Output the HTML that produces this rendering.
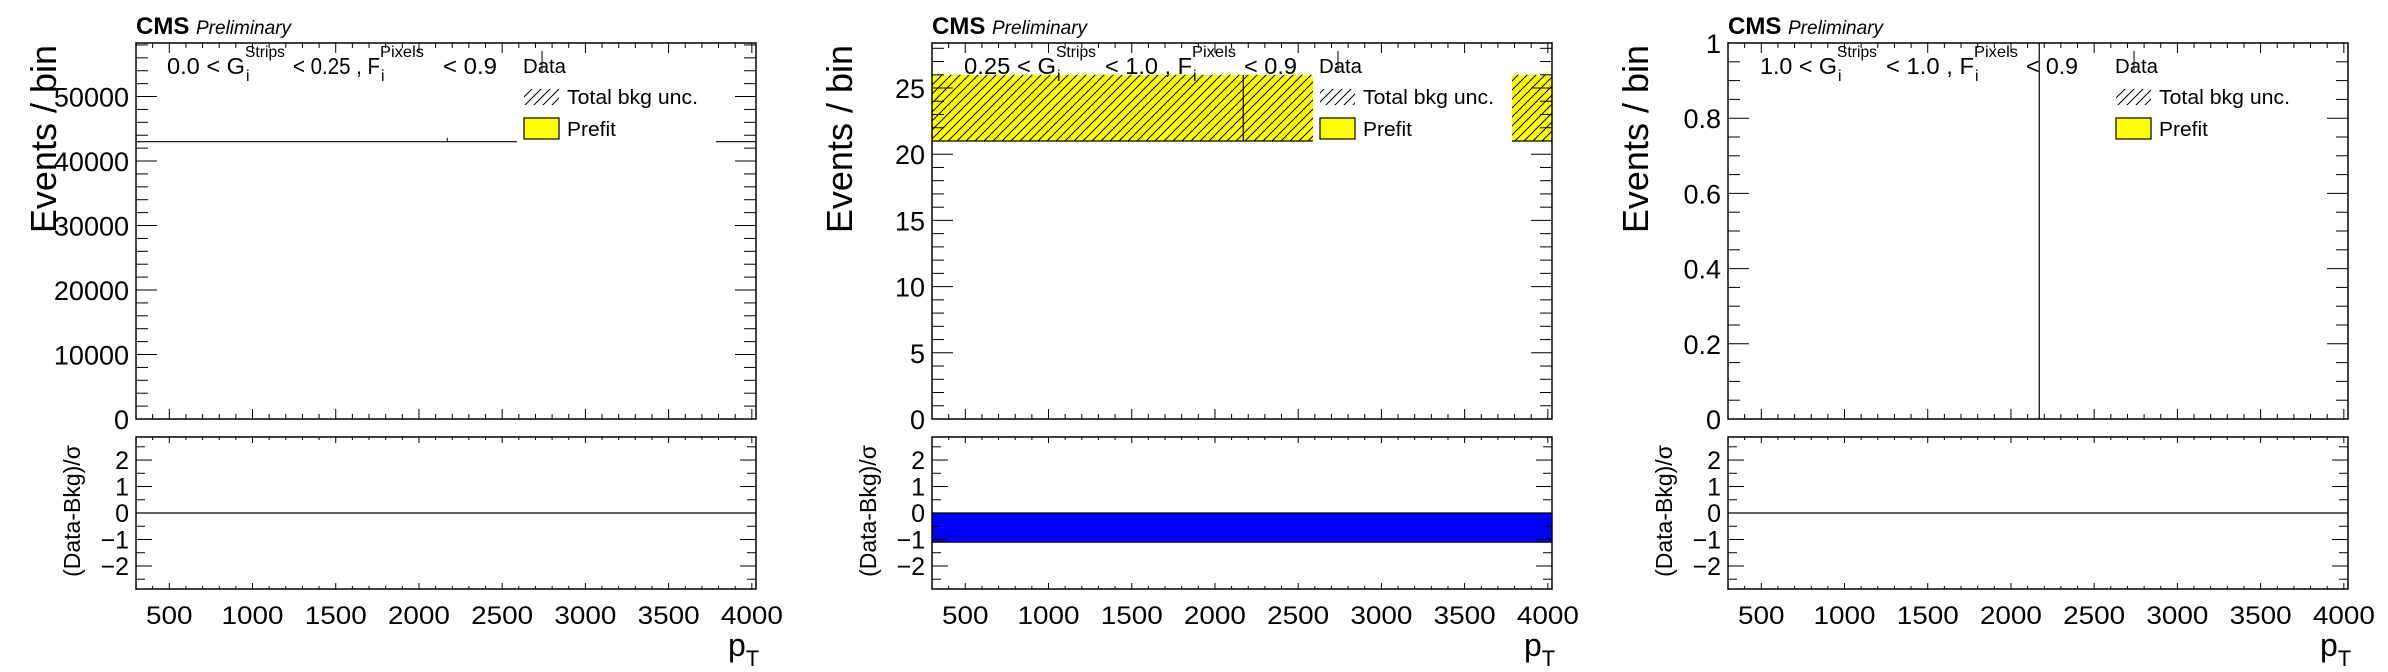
<!DOCTYPE html>
<html><head><meta charset="utf-8"><style>
html,body{margin:0;padding:0;background:#fff;}
svg{display:block;font-family:"Liberation Sans",Arial,sans-serif;}
</style></head><body>
<svg id="fig" width="2388" height="672" viewBox="0 0 2388 672" xmlns="http://www.w3.org/2000/svg">
<defs>
<pattern id="hatch" patternUnits="userSpaceOnUse" width="9" height="9">
<path d="M-2,11 L11,-2 M-2,2 L2,-2 M7,11 L11,7" stroke="#000" stroke-width="1"/>
</pattern>
</defs>
</svg>
<script>
const panelLefts=[136,932,1728];
const xMin=300, xMax=4025;
const binEdges=[300,2170,4025];
const xTicks=[500,1000,1500,2000,2500,3000,3500,4000];
const regionLow=["0.0","0.25","1.0"];
const regionHigh=["0.25","1.0","1.0"];
const yMaxes=[58300,28.4,1.0];
const yMajorStep=[10000,5,0.2];
const yMinorStep=[2000,1,0.05];
const yTickLabels=[["0","10000","20000","30000","40000","50000"],["0","5","10","15","20","25"],["0","0.2","0.4","0.6","0.8","1"]];
const prefit1=[43000,43000];
const prefit2=[23.5,23.5];
const unc2=[2.5,2.5];
const edgeLine3=[2170];
const pull2=[-1.1,-1.1];
const ratioTicks=[-2,-1,0,1,2];
const ratioTickLabels=["\u22122","\u22121","0","1","2"];

const NS="http://www.w3.org/2000/svg";
const svg=document.getElementById('fig');
const W=620, mainTop=43, mainBot=419, rTop=437, rBot=589, rMax=2.87;
const labelGeom=[
 [[31,109],[157,244],[307,361]],
 [[32,124],[173,260],[312,365]],
 [[32,109],[158,246],[298,350]]
];
function mk(tag,attrs,parent){const e=document.createElementNS(NS,tag);for(const k in attrs)e.setAttribute(k,attrs[k]);(parent||svg).appendChild(e);return e;}
function line(x1,y1,x2,y2,p,w){return mk('line',{x1,y1,x2,y2,stroke:'#000','stroke-width':w||1.2},p);}
function txt(p,x,y,size,s,len,extra){const a={x,y,'font-size':size};if(len){a.textLength=len;a.lengthAdjust='spacingAndGlyphs';}Object.assign(a,extra||{});const t=mk('text',a,p);t.textContent=s;return t;}

for(let p=0;p<3;p++){
  const L=panelLefts[p], R=L+W;
  const g=mk('g',{});
  
  
  const X=v=>L+(v-xMin)/(xMax-xMin)*W;
  const Y=v=>mainBot-v/yMaxes[p]*(mainBot-mainTop);
  const RY=v=>(rTop+rBot)/2-v/rMax*(rBot-rTop)/2;

  if(p===0){
    for(let i=0;i<prefit1.length;i++){
      const l=line(X(binEdges[i]),Y(prefit1[i]),X(binEdges[i+1]),Y(prefit1[i]),g,1.2);
      
      
      if(i>0) line(X(binEdges[i]),Y(prefit1[i])-4,X(binEdges[i]),Y(prefit1[i]),g,1);
    }
  }
  if(p===1){
    for(let i=0;i<prefit2.length;i++){
      const y1=Y(prefit2[i]+unc2[i]), y0=Y(prefit2[i]-unc2[i]);
      const r=mk('rect',{x:X(binEdges[i]),y:y1,width:X(binEdges[i+1])-X(binEdges[i]),height:y0-y1,fill:'#ffff00','shape-rendering':'crispEdges'},g);
      
      
      const h=mk('rect',{x:X(binEdges[i]),y:y1,width:X(binEdges[i+1])-X(binEdges[i]),height:y0-y1,fill:'url(#hatch)'},g);
      
      
      line(X(binEdges[i]),y0,X(binEdges[i+1]),y0,g,1.2);
      if(i>0) line(X(binEdges[i]),y1,X(binEdges[i]),y0,g,1.2);
    }
  }
  if(p===2){
    for(const e of edgeLine3){
      const l=line(X(e),Y(yMaxes[p]),X(e),Y(0),g,1.2);
      
      
    }
  }
  if(p===1){
    for(let i=0;i<pull2.length;i++){
      const r=mk('rect',{x:X(binEdges[i])-0.5,y:RY(0),width:X(binEdges[i+1])-X(binEdges[i])+1,height:RY(pull2[i])-RY(0),fill:'#0000ff','shape-rendering':'crispEdges'},g);
      
      
      line(X(binEdges[i]),RY(pull2[i]),X(binEdges[i+1]),RY(pull2[i]),g,1.2);
    }
  }
  const zl=line(L,RY(0),R,RY(0),g,1.2);
  
  

  const lab=mk('g',{},g);
  
  
  const G=labelGeom[p];
  txt(lab,L+G[0][0],74,23,regionLow[p]+' < G',G[0][1]-G[0][0]);
  txt(lab,L+G[0][1],57,16,'Strips',40);
  txt(lab,L+G[0][1]+1,81,16,'i');
  txt(lab,L+G[1][0],74,23,'< '+regionHigh[p]+' , F',G[1][1]-G[1][0]);
  txt(lab,L+G[1][1],57,16,'Pixels',44);
  txt(lab,L+G[1][1]+1,81,16,'i');
  txt(lab,L+G[2][0],74,23,'< 0.9',G[2][1]-G[2][0]);

  const lg=mk('g',{},g);
  
  
  mk('rect',{x:L+381,y:56,width:199,height:89,fill:'#fff'},lg);
  txt(lg,L+387,73,20,'Data',43);
  line(L+406,51,L+406,72,lg,1);
  mk('rect',{x:L+388,y:89,width:35,height:16,fill:'url(#hatch)'},lg);
  txt(lg,L+431,104,20,'Total bkg unc.',131);
  mk('rect',{x:L+388,y:118,width:35,height:21,fill:'#ffff00',stroke:'#000','stroke-width':1.2},lg);
  txt(lg,L+431,136,20,'Prefit',49);

  mk('rect',{x:L,y:mainTop,width:W,height:mainBot-mainTop,fill:'none',stroke:'#000','stroke-width':1.5},g);
  mk('rect',{x:L,y:rTop,width:W,height:rBot-rTop,fill:'none',stroke:'#000','stroke-width':1.5},g);

  for(let v=xMin;v<=xMax;v+=100){
    const maj=v%500===0, x=X(v);
    line(x,mainBot,x,mainBot-(maj?10:5),g,1);
    line(x,mainTop,x,mainTop+(maj?10:5),g,1);
    line(x,rBot,x,rBot-(maj?6:3),g,1);
    line(x,rTop,x,rTop+(maj?6:3),g,1);
  }
  for(let i=0;i<xTicks.length;i++){
    const s=String(xTicks[i]);
    const t=txt(g,X(xTicks[i]),624,25,s,s.length*15.5,{'text-anchor':'middle'});
    
    
  }
  const nMin=Math.floor(yMaxes[p]/yMinorStep[p]+1e-6);
  for(let k=0;k<=nMin;k++){
    const v=k*yMinorStep[p], y=Y(v);
    const maj=Math.abs(v/yMajorStep[p]-Math.round(v/yMajorStep[p]))<1e-6;
    line(L,y,L+(maj?21:12),y,g,1);
    line(R,y,R-(maj?21:12),y,g,1);
  }
  yTickLabels[p].forEach((s,i)=>{
    const t=mk('text',{x:L-7,y:Y(i*yMajorStep[p])+10,'font-size':27,'text-anchor':'end'},g);
    
    
    t.textContent=s;
  });
  for(let v=-2.5;v<=2.5;v+=0.5){
    const y=RY(v), maj=Number.isInteger(v);
    line(L,y,L+(maj?16:9),y,g,1);
    line(R,y,R-(maj?16:9),y,g,1);
  }
  ratioTicks.forEach((v,i)=>{
    const t=mk('text',{x:L-7,y:RY(v)+9,'font-size':25,'text-anchor':'end'},g);
    
    
    t.textContent=ratioTickLabels[i];
  });
  const yt=mk('text',{x:0,y:0,'font-size':36,'text-anchor':'end',transform:`translate(${L-80},45) rotate(-90)`},g);
  
  
  yt.textContent='Events / bin';
  const rt=mk('text',{x:0,y:0,'font-size':23,'text-anchor':'middle',transform:`translate(${L-56},511) rotate(-90)`},g);
  
  
  rt.textContent='(Data-Bkg)/\u03c3';
  const xt=mk('text',{x:R-28,y:656,'font-size':32},g);
  
  
  xt.innerHTML='p<tspan font-size="22" dy="10">T</tspan>';
  const cms=mk('text',{x:L,y:34,'font-size':24,'font-weight':'bold'},g);
  
  
  cms.innerHTML='CMS <tspan font-weight="normal" font-style="italic" font-size="19">Preliminary</tspan>';
}
</script>
</body></html>
